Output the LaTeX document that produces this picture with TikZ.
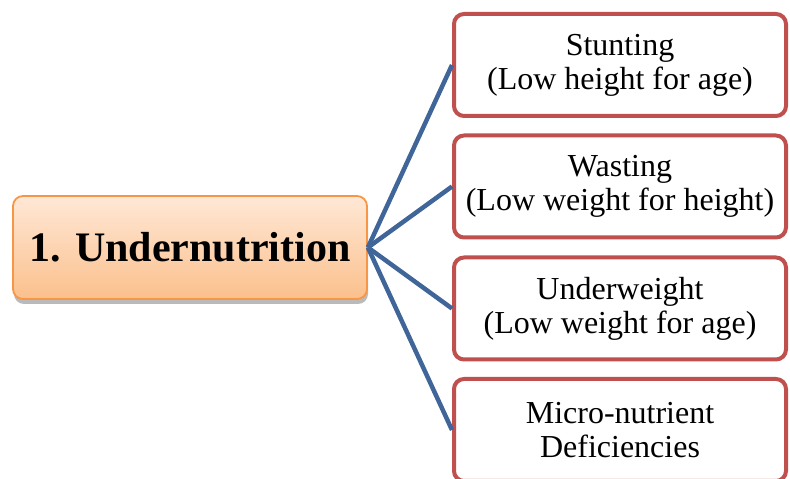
\documentclass[tikz,border=0pt]{standalone}
\usepackage{fontspec}
\setmainfont{Liberation Serif}
\usetikzlibrary{shadows}
\definecolor{redline}{HTML}{C0504D}
\definecolor{blueline}{HTML}{3F6599}
\definecolor{orangeline}{HTML}{F79646}
\definecolor{orangetop}{HTML}{FFE8D6}
\definecolor{orangebot}{HTML}{FBC08C}
\tikzset{
  leaf/.style={draw=redline, line width=4pt, rounded corners=10pt, fill=white,
    minimum width=332pt, minimum height=102pt, align=center,
    font=\fontsize{32}{34}\selectfont,
    execute at begin node={\rule{0pt}{29pt}}},
  root/.style={draw=orangeline, line width=1.8pt, rounded corners=10pt,
    top color=orangetop, bottom color=orangebot,
    minimum width=354pt, minimum height=103pt,
    font=\fontsize{42}{46}\selectfont\bfseries,
    drop shadow={shadow xshift=1pt, shadow yshift=-5pt, opacity=0.45, fill=black!60}},
  link/.style={draw=blueline, line width=4.5pt}
}
\begin{document}
\begin{tikzpicture}[x=1pt,y=1pt]
\useasboundingbox (0,0) rectangle (790,479);
\clip (0,0) rectangle (790,479);
\node[root] (u) at (190,231.5) {1. Undernutrition};
\node[leaf] (s) at (620,414) {Stunting\\(Low height for age)};
\node[leaf] (w) at (620,292.5) {Wasting\\(Low weight for height)};
\node[leaf] (uw) at (620,170.5) {Underweight\\(Low weight for age)};
\node[leaf] (m) at (620,49) {Micro-nutrient\\Deficiencies};
\foreach \t in {s,w,uw,m} {
  \draw[link] (u.east) -- (\t.west);
}
\end{tikzpicture}
\end{document}
